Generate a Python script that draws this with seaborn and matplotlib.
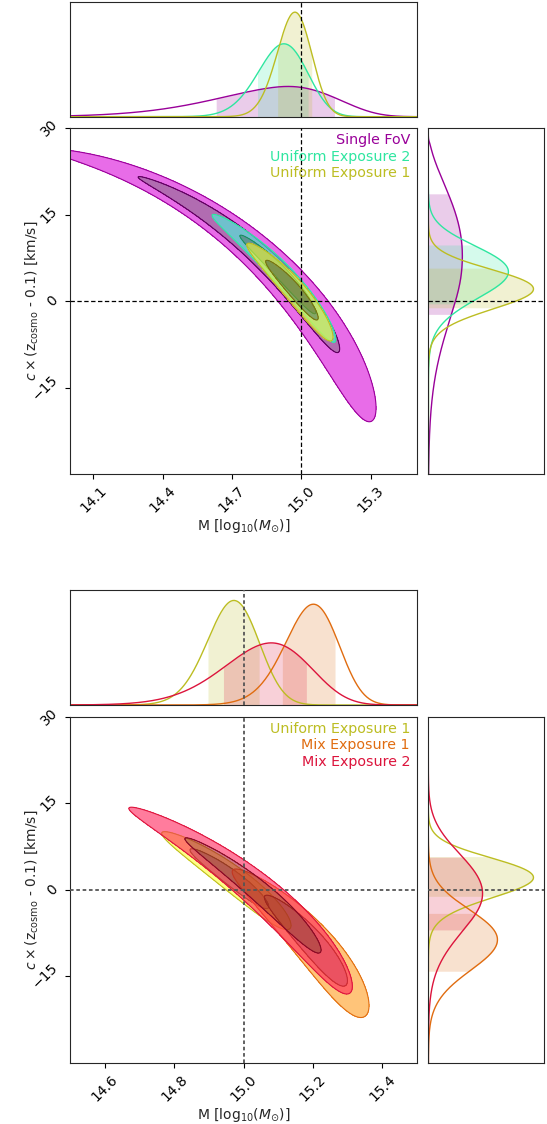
import numpy as np
import matplotlib
matplotlib.use("Agg")
import matplotlib.pyplot as plt
import seaborn as sns
from matplotlib.colors import to_rgb

sns.set_style("ticks")
plt.rcParams["font.family"] = ["DejaVu Sans"]
plt.rcParams["mathtext.fontset"] = "dejavusans"

# ---------------------------------------------------------------- chains
chain_names = ["Single FoV", "Uniform Exposure 2", "Uniform Exposure 1",
               "Mix Exposure 1", "Mix Exposure 2"]
chain_colours = ["#990099", "#2ee6a0", "#bcbd22", "#e06c10", "#dc143c"]

# The mass / offset degeneracy follows a circular arc in the normalised
# (mass, offset) frame.  Each posterior is a skewed Gaussian along the arc
# (angle in degrees) times a Gaussian across it (radius).
frame_origin = (14.0, -30.0)
frame_scale = (1.5, 60.0)
arc_centre = (-0.283, -0.269)
arc_radius = [1.226, 1.232, 1.2265, 1.245, 1.243]
arc_mode = [44.0, 43.5, 40.8, 29.9, 37.0]
arc_sd_low = [10.5, 4.8, 3.5, 4.6, 6.2]
arc_sd_high = [13.0, 4.8, 3.5, 4.6, 6.6]
cross_width = [0.021, 0.0115, 0.0115, 0.014, 0.0143]
cross_trend = [0.020, 0.0142, 0.0142, 0.0142, 0.0142]

# 68% marginal intervals
mass_band_lo = [14.63, 14.81, 14.896, 15.11, 14.942]
mass_band_hi = [15.145, 15.03, 15.046, 15.264, 15.182]
offset_band_lo = [-2.3, -0.5, -1.2, -14.2, -7.0]
offset_band_hi = [18.7, 9.8, 5.75, -4.1, 5.7]

# panels
panel_chains = [[0, 1, 2], [2, 3, 4]]
panel_xlim = [(14.0, 15.5), (14.5, 15.5)]
panel_xticks = [[14.1, 14.4, 14.7, 15.0, 15.3], [14.6, 14.8, 15.0, 15.2, 15.4]]
offset_lim = (-30.0, 30.0)
offset_ticks = [-15, 0, 15, 30]
truth_mass = 15.0
truth_offset = 0.0
credible_levels = [0.9545, 0.6827]

# ---------------------------------------------------------------- density
mass_grid = np.linspace(13.0, 15.9, 1300)
offset_grid = np.linspace(-60.0, 45.0, 1100)
dmass = mass_grid[1] - mass_grid[0]
doff = offset_grid[1] - offset_grid[0]
MG, OG = np.meshgrid(mass_grid, offset_grid)
U = (MG - frame_origin[0]) / frame_scale[0] - arc_centre[0]
V = (OG - frame_origin[1]) / frame_scale[1] - arc_centre[1]
R = np.hypot(U, V)
TH = np.degrees(np.arctan2(V, U))


def chain_density(k):
    d = TH - arc_mode[k]
    sd = np.where(d < 0, arc_sd_low[k], arc_sd_high[k])
    sr = cross_width[k] * np.exp(-cross_trend[k] * (TH - 45.0))
    logp = -0.5 * (d / sd) ** 2 - 0.5 * ((R - arc_radius[k]) / sr) ** 2
    p = np.exp(logp) / (sr * R)
    return p / (p.sum() * dmass * doff)


def hpd_levels(p):
    flat = np.sort(p.ravel())[::-1]
    cdf = np.cumsum(flat)
    cdf /= cdf[-1]
    return [flat[np.searchsorted(cdf, m)] for m in credible_levels]


def scale_colour(c, f):
    return tuple(min(1.0, ch * f) for ch in to_rgb(c))


dens = {k: chain_density(k) for k in range(len(chain_names))}
levels = {k: hpd_levels(dens[k]) for k in dens}
marg_mass = {k: dens[k].sum(axis=0) * doff for k in dens}
marg_off = {k: dens[k].sum(axis=1) * dmass for k in dens}

# ---------------------------------------------------------------- layout
W, H = 547.0, 1124.0
fig = plt.figure(figsize=(W / 100, H / 100), dpi=100)


def box(x0, y0, x1, y1):
    return [x0 / W, 1 - y1 / H, (x1 - x0) / W, (y1 - y0) / H]


panel_boxes = [
    (box(70, 1.7, 417, 116.7), box(70, 128.3, 417, 474), box(428.3, 128.3, 544, 474)),
    (box(70, 590, 417, 705), box(70, 716.7, 417, 1062.7), box(428.3, 716.7, 544, 1062.7)),
]
truth_styles = [dict(color="k", ls=(0, (3.5, 2)), lw=0.9),
                dict(color="#555555", ls=(0, (2, 1.5)), lw=1.3)]

shade_alpha = 1 / np.sqrt(3)

for pi, chains in enumerate(panel_chains):
    b_top, b_main, b_right = panel_boxes[pi]
    ax_top = fig.add_axes(b_top)
    ax_main = fig.add_axes(b_main)
    ax_right = fig.add_axes(b_right)

    xlo, xhi = panel_xlim[pi]
    in_x = (mass_grid >= xlo) & (mass_grid <= xhi)
    top_max, right_max = 0.0, 0.0

    for z, k in enumerate(chains):
        base = chain_colours[k]
        p = dens[k]
        l95, l68 = levels[k]
        ax_main.contourf(mass_grid, offset_grid, p,
                         levels=[l95, l68, p.max() * 1.01],
                         colors=[scale_colour(base, 1.413), scale_colour(base, 0.785)],
                         alpha=shade_alpha, zorder=z + 1)
        ax_main.contour(mass_grid, offset_grid, p, levels=[l95, l68],
                        colors=[base, scale_colour(base, 0.6)],
                        linewidths=0.8, zorder=z + 1)

        pm = marg_mass[k]
        po = marg_off[k]
        sns.lineplot(x=mass_grid, y=pm, ax=ax_top, color=base, linewidth=1.0,
                     sort=False, estimator=None)
        sel = (mass_grid >= mass_band_lo[k]) & (mass_grid <= mass_band_hi[k])
        ax_top.fill_between(mass_grid, 0, pm, where=sel, color=base, alpha=0.2, lw=0)

        sns.lineplot(x=po, y=offset_grid, ax=ax_right, color=base, linewidth=1.0,
                     sort=False, estimator=None, orient="y")
        sel = (offset_grid >= offset_band_lo[k]) & (offset_grid <= offset_band_hi[k])
        ax_right.fill_betweenx(offset_grid, 0, po, where=sel, color=base, alpha=0.2, lw=0)

        top_max = max(top_max, pm[in_x].max())
        right_max = max(right_max, po.max())

    # truth markers
    ts = truth_styles[pi]
    ax_main.axvline(truth_mass, zorder=10, **ts)
    ax_main.axhline(truth_offset, zorder=10, **ts)
    ax_top.axvline(truth_mass, zorder=10, **ts)
    ax_right.axhline(truth_offset, zorder=10, **ts)

    ax_main.set_xlim(xlo, xhi)
    ax_main.set_ylim(*offset_lim)
    ax_main.set_xticks(panel_xticks[pi])
    ax_main.set_yticks(offset_ticks)
    ax_main.set_xticklabels([f"{t:.1f}" for t in panel_xticks[pi]], rotation=45)
    ax_main.set_yticklabels([f"{t:d}".replace("-", "\u2212") for t in offset_ticks],
                            rotation=45, va="center")
    ax_main.tick_params(labelsize=10, length=3.5, width=0.8, colors="k")
    ax_main.set_xlabel(r"M [log$_{10}$($M_{\odot}$)]", fontsize=10)
    ax_main.set_ylabel(r"$c \times (\mathrm{z}_{\mathrm{cosmo}}$ - 0.1) [km/s]", fontsize=10)
    ax_main.xaxis.set_label_coords(0.5, -0.126)
    ax_main.yaxis.set_label_coords(-0.087, 0.5)

    ax_top.set_xlim(xlo, xhi)
    ax_top.set_ylim(0, 1.1 * top_max)
    ax_top.set_xticks([])
    ax_top.set_yticks([])
    ax_top.set_xlabel("")
    ax_top.set_ylabel("")

    ax_right.set_ylim(*offset_lim)
    ax_right.set_xlim(0, 1.1 * right_max)
    ax_right.set_xticks([])
    ax_right.set_yticks([])
    ax_right.set_xlabel("")
    ax_right.set_ylabel("")

    for i, k in enumerate(chains):
        ax_main.text(0.98, 0.985 - i * 0.0477, chain_names[k], color=chain_colours[k],
                     ha="right", va="top", fontsize=10.3, transform=ax_main.transAxes,
                     zorder=20)

fig.savefig("out.png", dpi=100)
